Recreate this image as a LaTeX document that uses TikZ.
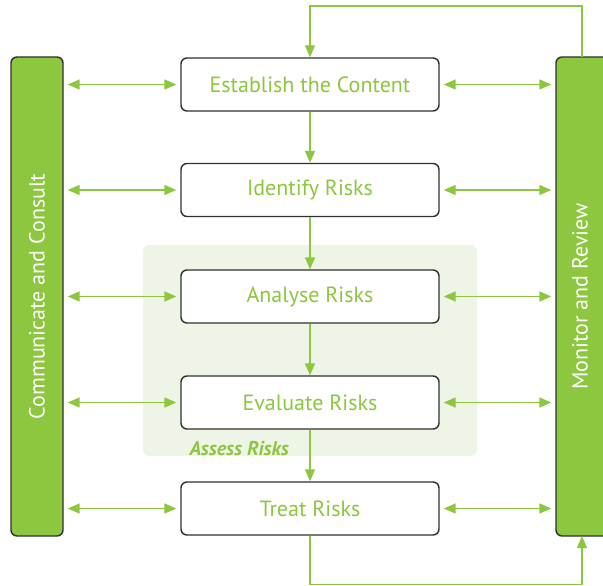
\documentclass[tikz,border=0pt]{standalone}
\usepackage{fontspec}
\setmainfont{PT Sans}
\usetikzlibrary{arrows.meta,calc}
\definecolor{leaf}{HTML}{8DC63F}
\definecolor{leafpale}{HTML}{EEF5E6}
\definecolor{edge}{HTML}{303030}
\begin{document}
\begin{tikzpicture}[x=1pt,y=-1pt,
  stepbox/.style={draw=edge,line width=1.4pt,rounded corners=6pt,fill=white,
    minimum width=258pt,minimum height=53pt,inner sep=0pt,
    text=leaf,font=\fontsize{22}{26}\selectfont},
  sidebar/.style={draw=edge,line width=1.4pt,rounded corners=6pt,fill=leaf,
    minimum height=479pt,inner sep=0pt,text=white,
    font=\fontsize{22}{26}\selectfont},
  link/.style={leaf,line width=1.6pt,-{Triangle[length=12pt,width=10pt]}},
  duplex/.style={leaf,line width=1.6pt,{Triangle[length=12pt,width=10pt]}-{Triangle[length=12pt,width=10pt]},
    shorten <=4pt,shorten >=4pt},
  loop/.style={leaf,line width=1.3pt}]
\useasboundingbox (0,0) rectangle (603,586);

% the assessment region behind the middle steps
\node[fill=leafpale,rounded corners=6pt,minimum width=334pt,minimum height=211pt,inner sep=0pt]
  (assess) at (310,350.5) {};
\node[anchor=base west,text=leaf,font=\fontsize{20}{24}\selectfont\bfseries\itshape]
  (assesslbl) at (186,455) {Assess Risks};

% the five process steps
\node[stepbox] (establish) at (310,84.5)  {Establish the Content};
\node[stepbox] (identify)  at (310,190)   {Identify Risks};
\node[stepbox] (analyse)   at (310,296.5) {Analyse Risks};
\node[stepbox] (evaluate)  at (310,402.5) {Evaluate Risks};
\node[stepbox] (treat)     at (310,508.5) {Treat Risks};

% the two side bars
\node[sidebar,minimum width=52pt] (consult) at (37,296.5)
  {\rotatebox{90}{Communicate and Consult}};
\node[sidebar,minimum width=60pt] (monitor) at (586,296.5) {};
\node[text=white,font=\fontsize{22}{26}\selectfont] (monitorlbl) at (580,296.5)
  {\rotatebox{90}{Monitor and Review}};

% flow between the steps
\draw[link] (establish) -- (identify);
\draw[link] (identify) -- (analyse);
\draw[link] (analyse) -- (evaluate);
\draw[link] (evaluate) -- (treat);

% exchanges with the side bars
\foreach \s in {establish,identify,analyse,evaluate,treat}{
  \draw[duplex] (\s.west -| consult.east) -- (\s.west);
  \draw[duplex] (\s.east) -- (\s.east -| monitor.west);
}

% feedback loops
\coordinate (mtop) at (582,57);
\coordinate (mbot) at (582,536);
\draw[loop,-{Triangle[length=12pt,width=10pt]}] (mtop) -- (582,6) -- (310,6) -- (establish.north);
\draw[loop,-{Triangle[length=12pt,width=10pt]}] (treat.south) -- (310,584.5) -- (582,584.5) -- (mbot);
\end{tikzpicture}
\end{document}
